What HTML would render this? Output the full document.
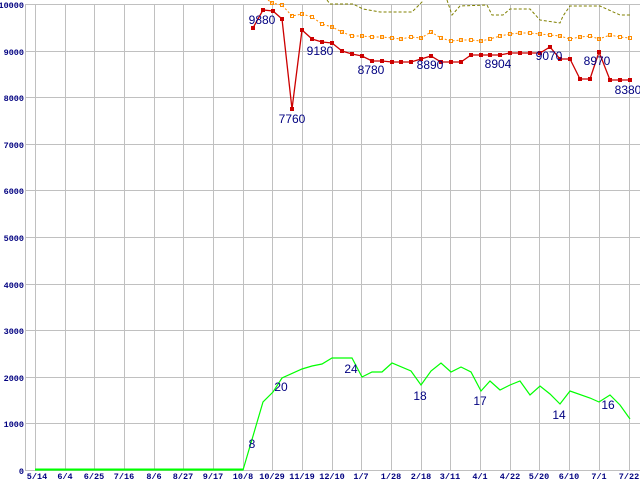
<!DOCTYPE html>
<html><head><style>html,body{margin:0;padding:0;background:#fff}svg{display:block}</style></head><body>
<svg width="640" height="480" xmlns="http://www.w3.org/2000/svg">
<rect width="640" height="480" fill="#fff"/>
<g stroke="#c0c0c0" stroke-width="1" fill="none">
<path d="M25.5 4.5H640M25.5 51.5H640M25.5 97.5H640M25.5 144.5H640M25.5 190.5H640M25.5 237.5H640M25.5 284.5H640M25.5 330.5H640M25.5 377.5H640M25.5 423.5H640M25.5 470.5H640"/>
<path d="M25.5 4V471M35.5 4V471M65.5 4V471M94.5 4V471M124.5 4V471M154.5 4V471M183.5 4V471M213.5 4V471M243.5 4V471M272.5 4V471M302.5 4V471M332.5 4V471M361.5 4V471M391.5 4V471M421.5 4V471M450.5 4V471M480.5 4V471M510.5 4V471M539.5 4V471M569.5 4V471M599.5 4V471M629.5 4V471"/>
</g>
<g font-family="Liberation Mono, monospace" font-size="8.5" font-weight="bold" fill="#000080" text-anchor="end">
<text x="24" y="8">10000</text><text x="24" y="55">9000</text><text x="24" y="101">8000</text><text x="24" y="148">7000</text><text x="24" y="194">6000</text><text x="24" y="241">5000</text><text x="24" y="288">4000</text><text x="24" y="334">3000</text><text x="24" y="381">2000</text><text x="24" y="427">1000</text><text x="24" y="474">0</text>
</g>
<g font-family="Liberation Mono, monospace" font-size="8.5" font-weight="bold" fill="#000080" text-anchor="middle">
<text x="37" y="479">5/14</text><text x="65" y="479">6/4</text><text x="94" y="479">6/25</text><text x="124" y="479">7/16</text><text x="154" y="479">8/6</text><text x="183" y="479">8/27</text><text x="213" y="479">9/17</text><text x="243" y="479">10/8</text><text x="272" y="479">10/29</text><text x="302" y="479">11/19</text><text x="332" y="479">12/10</text><text x="361" y="479">1/7</text><text x="391" y="479">1/28</text><text x="421" y="479">2/18</text><text x="450" y="479">3/11</text><text x="480" y="479">4/1</text><text x="510" y="479">4/22</text><text x="539" y="479">5/20</text><text x="569" y="479">6/10</text><text x="599" y="479">7/1</text><text x="629" y="479">7/22</text>
</g>
<polyline fill="none" stroke="#808000" stroke-width="1" stroke-dasharray="3,2" points="327,0 330,4 353,4 363,9 380,12 412,12 422,2 423,0"/>
<polyline fill="none" stroke="#808000" stroke-width="1" stroke-dasharray="3,2" points="447,0 452,15 460,6 487,5 492,15 503,15 510,9 530,9 540,20 560,23 563,16 570,6 600,6 620,15 630,15"/>
<polyline fill="none" stroke="#ff8c00" stroke-width="1" stroke-dasharray="2,2" points="268,0 272,3 282,5 292,16 302,14 312,17 322,24 332,27 342,32 352,36 362,36 372,37 382,37 392,38 401,39 411,37 421,38 431,32 441,38 451,41 461,40 471,40 481,41 490,39 500,36 510,34 520,33 530,33 540,34 550,35 560,36 570,39 580,37 590,36 599,39 610,35 620,37 630,38"/>
<g fill="none" stroke="#ff8c00" stroke-width="1">
<path d="M270.5 1.5h3v3h-3zM280.5 3.5h3v3h-3zM290.5 14.5h3v3h-3zM300.5 12.5h3v3h-3zM310.5 15.5h3v3h-3zM320.5 22.5h3v3h-3zM330.5 25.5h3v3h-3zM340.5 30.5h3v3h-3zM350.5 34.5h3v3h-3zM360.5 34.5h3v3h-3zM370.5 35.5h3v3h-3zM380.5 35.5h3v3h-3zM390.5 36.5h3v3h-3zM399.5 37.5h3v3h-3zM409.5 35.5h3v3h-3zM419.5 36.5h3v3h-3zM429.5 30.5h3v3h-3zM439.5 36.5h3v3h-3zM449.5 39.5h3v3h-3zM459.5 38.5h3v3h-3zM469.5 38.5h3v3h-3zM479.5 39.5h3v3h-3zM488.5 37.5h3v3h-3zM498.5 34.5h3v3h-3zM508.5 32.5h3v3h-3zM518.5 31.5h3v3h-3zM528.5 31.5h3v3h-3zM538.5 32.5h3v3h-3zM548.5 33.5h3v3h-3zM558.5 34.5h3v3h-3zM568.5 37.5h3v3h-3zM578.5 35.5h3v3h-3zM588.5 34.5h3v3h-3zM597.5 37.5h3v3h-3zM608.5 33.5h3v3h-3zM618.5 35.5h3v3h-3zM628.5 36.5h3v3h-3z"/>
</g>
<polyline fill="none" stroke="#cc0000" stroke-width="1.3" points="253,28 263,10 273,11 282,19 292,109 302,30 312,39 322,42 332,43 342,51 352,54 362,56 372,61 382,61 392,62 401,62 411,62 421,59 431,56 441,62 451,62 461,62 471,55 481,55 490,55 500,55 510,53 520,53 530,53 540,53 550,47 560,59 570,59 580,79 590,79 599,52 610,80 620,80 630,80"/>
<g fill="#cc0000">
<path d="M251 26h4v4h-4zM261 8h4v4h-4zM271 9h4v4h-4zM280 17h4v4h-4zM290 107h4v4h-4zM300 28h4v4h-4zM310 37h4v4h-4zM320 40h4v4h-4zM330 41h4v4h-4zM340 49h4v4h-4zM350 52h4v4h-4zM360 54h4v4h-4zM370 59h4v4h-4zM380 59h4v4h-4zM390 60h4v4h-4zM399 60h4v4h-4zM409 60h4v4h-4zM419 57h4v4h-4zM429 54h4v4h-4zM439 60h4v4h-4zM449 60h4v4h-4zM459 60h4v4h-4zM469 53h4v4h-4zM479 53h4v4h-4zM488 53h4v4h-4zM498 53h4v4h-4zM508 51h4v4h-4zM518 51h4v4h-4zM528 51h4v4h-4zM538 51h4v4h-4zM548 45h4v4h-4zM558 57h4v4h-4zM568 57h4v4h-4zM578 77h4v4h-4zM588 77h4v4h-4zM597 50h4v4h-4zM608 78h4v4h-4zM618 78h4v4h-4zM628 78h4v4h-4z"/>
</g>
<polyline fill="none" stroke="#00ff00" stroke-width="1.2" points="35,470 243,470 263,402 273,392 282,378 302,369 312,366 322,364 332,358 342,358 352,358 362,377 372,372 382,372 392,363 411,371 421,385 431,371 441,363 451,372 461,367 471,372 481,391 490,381 500,390 510,385 520,381 530,395 540,386 550,394 560,404 570,391 590,398 599,402 610,395 620,405 630,419"/>
<path d="M35 469.5H243" stroke="#00ff00" stroke-width="2"/>
<g font-family="Liberation Sans, sans-serif" font-size="12" fill="#000080" text-anchor="middle">
<text x="262" y="24">9880</text><text x="292" y="123">7760</text><text x="320" y="55">9180</text><text x="371" y="74">8780</text><text x="430" y="69">8890</text><text x="498" y="68">8904</text><text x="549" y="60">9070</text><text x="597" y="65">8970</text><text x="628" y="94">8380</text>
<text x="252" y="448">8</text><text x="281" y="391">20</text><text x="351" y="373">24</text><text x="420" y="400">18</text><text x="480" y="405">17</text><text x="559" y="419">14</text><text x="608" y="409">16</text>
</g>
</svg>
</body></html>
